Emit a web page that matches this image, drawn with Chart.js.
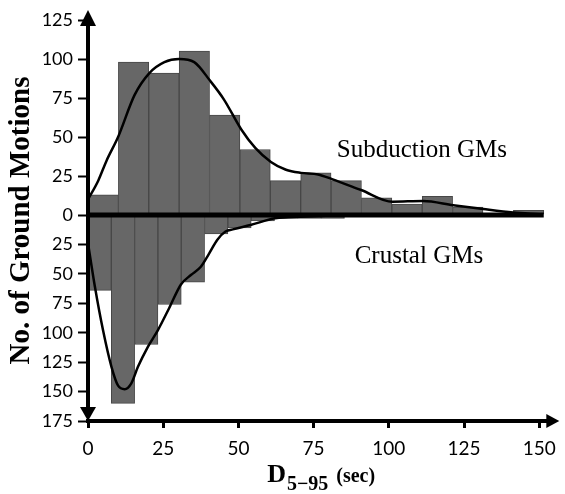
<!DOCTYPE html>
<html>
<head>
<meta charset="utf-8">
<script src="https://cdn.jsdelivr.net/npm/chart.js@4"></script>
<style>
  html, body { margin: 0; padding: 0; background: #fff; }
  #wrap { width: 565px; height: 494px; }
</style>
</head>
<body>
<div id="wrap"><canvas id="hist"></canvas></div>
<script>
// D5-95 histograms: subduction records above the zero line, crustal below it

// bin centres (sec) and counts
const subductionBins = [5.05, 15.15, 25.25, 35.35, 45.45, 55.55, 65.65, 75.75, 85.85, 95.95, 106.05, 116.15, 126.25, 136.35, 146.45];
const subductionCounts = [13, 98, 91, 105, 64, 42, 22, 27, 22, 11, 7, 12, 5, 1, 3];

const crustalBins = [3.875, 11.625, 19.375, 27.125, 34.875, 42.625, 50.375, 58.125, 65.875, 73.625, 81.375, 89.125, 96.875, 104.625, 112.375];
const crustalCounts = [64, 160, 110, 76, 57, 16, 11, 5, 3, 3, 3, 0, 1, 1, 1];

// fitted distributions
const subductionFitX = [0, 3.4, 6.2, 10, 15.5, 20.4, 25.4, 30.3, 35.3, 40.6, 45.2, 50.9, 55.6, 60.8, 65.8, 70.8, 76.5, 81.1, 90.8, 101.2, 111.4, 121.4, 131.4, 141.3, 150];
const subductionFitY = [10, 22, 35, 50, 77, 91, 98, 100, 98, 86, 74, 55, 43, 34, 29, 27, 26, 23, 16, 8.5, 9, 6.3, 3.8, 1.6, 0.5];

const crustalFitX = [0, 2.3, 5, 7.8, 10, 12.2, 14.4, 16.6, 19.9, 23.2, 27, 30.9, 34.2, 37.5, 40.2, 43, 45.7, 48.5, 54, 62.2, 66.6, 75, 90];
const crustalFitY = [24, 61, 98, 129, 145, 148, 143, 129, 112, 98, 79, 59, 51, 44, 33, 21, 14, 12, 8.5, 2.8, 2, 1, 0];

// tick values (crustal side counts downward from the zero line)
const xTicks = [0, 25, 50, 75, 100, 125, 150];
const upTicks = [0, 25, 50, 75, 100, 125];
const downTicks = [25, 50, 75, 100, 125, 150, 175];

const zeroLineEnd = 151.5;

const points = (xs, ys, sign = 1) => xs.map((x, i) => ({ x, y: sign * ys[i] }));
const setTicks = list => scale => { scale.ticks = list.map(v => ({ value: v })); };

// Linear scale whose positive and negative halves have their own spacing:
// upperShare is the fraction of the axis height given to values >= 0.
class SplitLinearScale extends Chart.LinearScale {
  static id = 'splitLinear';
  toDecimal(value) {
    const share = this.options.upperShare;
    if (value >= 0) return (1 - share) + share * value / this.max;
    return (1 - share) * (value - this.min) / -this.min;
  }
  getPixelForValue(value) {
    return this.getPixelForDecimal(this.toDecimal(value));
  }
  getValueForPixel(pixel) {
    const d = this.getDecimalForPixel(pixel);
    const share = this.options.upperShare;
    if (d >= 1 - share) return (d - (1 - share)) / share * this.max;
    return this.min + d / (1 - share) * -this.min;
  }
}
Chart.register(SplitLinearScale);

const serif = 'Liberation Serif';

function triangle(ctx, pts) {
  ctx.beginPath();
  ctx.moveTo(pts[0][0], pts[0][1]);
  ctx.lineTo(pts[1][0], pts[1][1]);
  ctx.lineTo(pts[2][0], pts[2][1]);
  ctx.closePath();
  ctx.fill();
}

// axis lines with arrow heads, the heavy zero line and the text labels
const axesAndLabels = {
  id: 'axesAndLabels',
  afterDatasetsDraw(chart) {
    const { ctx, chartArea: a, scales } = chart;
    const x = scales.x, y = scales.y;
    const x0 = x.getPixelForValue(0);
    const y0 = y.getPixelForValue(0);
    ctx.save();
    ctx.strokeStyle = '#000';
    ctx.fillStyle = '#000';

    ctx.lineWidth = 5;
    ctx.beginPath();
    ctx.moveTo(x0, y0);
    ctx.lineTo(x.getPixelForValue(zeroLineEnd), y0);
    ctx.stroke();

    ctx.lineWidth = 4;
    ctx.beginPath();
    ctx.moveTo(x0, a.top - 4);
    ctx.lineTo(x0, a.bottom - 8);
    ctx.stroke();
    triangle(ctx, [[x0, a.top - 10], [x0 - 8, a.top + 6], [x0 + 8, a.top + 6]]);
    triangle(ctx, [[x0, a.bottom], [x0 - 8, a.bottom - 14], [x0 + 8, a.bottom - 14]]);

    ctx.beginPath();
    ctx.moveTo(x0 - 2, a.bottom);
    ctx.lineTo(a.right - 2, a.bottom);
    ctx.stroke();
    triangle(ctx, [[a.right + 5, a.bottom], [a.right - 8, a.bottom - 7], [a.right - 8, a.bottom + 7]]);

    // group labels
    ctx.font = `25px "${serif}"`;
    ctx.textAlign = 'center';
    ctx.textBaseline = 'alphabetic';
    ctx.fillText('Subduction GMs', x.getPixelForValue(111), y.getPixelForValue(37));
    ctx.fillText('Crustal GMs', x.getPixelForValue(110), y.getPixelForValue(-41));

    // y title
    ctx.save();
    ctx.translate(22, (a.top + a.bottom) / 2);
    ctx.rotate(-Math.PI / 2);
    ctx.font = `bold 29px "${serif}"`;
    ctx.textBaseline = 'middle';
    ctx.fillText('No. of Ground Motions', 0, 0);
    ctx.restore();

    // x title: D with subscript 5-95, then (sec)
    const base = 482;
    const parts = [
      { t: 'D', f: `bold 26px "${serif}"`, dy: 0, gap: 1 },
      { t: '5\u221295', f: `bold 20px "${serif}"`, dy: 8, gap: 8 },
      { t: '(sec)', f: `bold 20px "${serif}"`, dy: 0, gap: 0 }
    ];
    let total = 0;
    parts.forEach(p => { ctx.font = p.f; p.w = ctx.measureText(p.t).width; total += p.w + p.gap; });
    let cx = (a.left + a.right) / 2 - total / 2;
    ctx.textAlign = 'left';
    parts.forEach(p => {
      ctx.font = p.f;
      ctx.fillText(p.t, cx, base + p.dy);
      cx += p.w + p.gap;
    });
    ctx.restore();
  }
};

const barStyle = {
  type: 'bar',
  backgroundColor: '#676767',
  borderColor: '#474747',
  borderWidth: 1,
  barPercentage: 1,
  categoryPercentage: 1,
  grouped: false,
  order: 2
};

const fitStyle = {
  type: 'line',
  borderColor: '#000',
  borderWidth: 2.5,
  pointRadius: 0,
  cubicInterpolationMode: 'monotone',
  fill: false,
  order: 1
};

new Chart(document.getElementById('hist'), {
  data: {
    datasets: [
      { ...barStyle, data: points(subductionBins, subductionCounts), xAxisID: 'x' },
      { ...barStyle, data: points(crustalBins, crustalCounts, -1), xAxisID: 'xLow' },
      { ...fitStyle, data: points(subductionFitX, subductionFitY), xAxisID: 'x' },
      { ...fitStyle, data: points(crustalFitX, crustalFitY, -1), xAxisID: 'x' }
    ]
  },
  options: {
    responsive: true,
    maintainAspectRatio: false,
    animation: false,
    layout: { padding: { left: 38, top: 20, right: 7, bottom: 0 } },
    plugins: { legend: { display: false }, tooltip: { enabled: false } },
    scales: {
      x: {
        type: 'linear',
        position: 'bottom',
        offset: false,
        min: 0,
        max: 155,
        afterBuildTicks: setTicks(xTicks),
        afterFit: s => { s.height = 73; },
        grid: { offset: false, drawOnChartArea: false, tickLength: 7, tickWidth: 3, tickColor: '#000' },
        border: { display: false },
        ticks: { font: { family: 'Lato', size: 19 }, color: '#000', padding: 9, maxRotation: 0, autoSkip: false }
      },
      xLow: {
        type: 'linear',
        display: false,
        offset: false,
        min: 0,
        max: 155
      },
      y: {
        type: 'splitLinear',
        position: 'left',
        min: -175,
        max: 125,
        upperShare: 195 / 401,
        afterBuildTicks: setTicks(downTicks.map(v => -v).reverse().concat(upTicks)),
        afterFit: s => { s.width = 50; },
        grid: { drawOnChartArea: false, tickLength: 10, tickWidth: 2, tickColor: '#000' },
        border: { display: false },
        ticks: {
          font: { family: 'Lato', size: 18 },
          color: '#000',
          padding: 5,
          autoSkip: false,
          callback: v => String(Math.abs(v))
        }
      }
    }
  },
  plugins: [axesAndLabels]
});
</script>
</body>
</html>
